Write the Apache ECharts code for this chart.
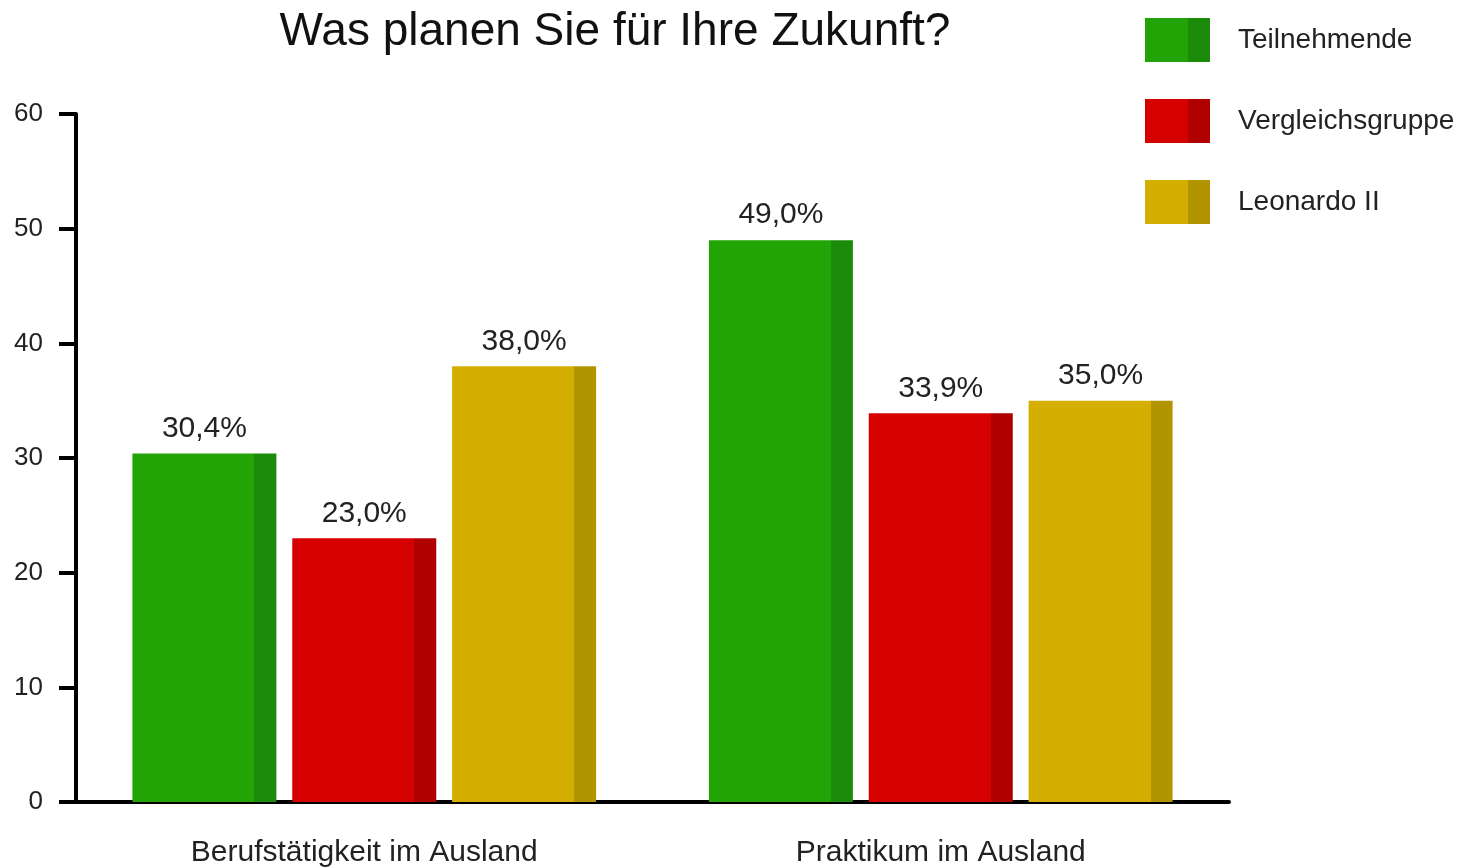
<!DOCTYPE html>
<html>
<head>
<meta charset="utf-8">
<script src="https://cdn.jsdelivr.net/npm/echarts@6/dist/echarts.min.js"></script>
<style>
  html, body { margin: 0; padding: 0; background: #fff; }
  #chart { width: 1465px; height: 868px; }
</style>
</head>
<body>
<div id="chart"></div>
<script>
const categories = ['Berufstätigkeit im Ausland', 'Praktikum im Ausland']
const seriesNames = ['Teilnehmende', 'Vergleichsgruppe', 'Leonardo II']
const teilnehmende = [30.4, 49.0]
const vergleichsgruppe = [23.0, 33.9]
const leonardo = [38.0, 35.0]

const font = 'Liberation Sans, Arial, sans-serif'
const colors = [
  ['#22a306', '#1b8b0a'],
  ['#d50000', '#b10000'],
  ['#d4ae00', '#b29300']
]

// flat front with a darker strip on the right side
function sideShade(pair, split) {
  return new echarts.graphic.LinearGradient(0, 0, 1, 0, [
    { offset: 0, color: pair[0] },
    { offset: split, color: pair[0] },
    { offset: split, color: pair[1] },
    { offset: 1, color: pair[1] }
  ])
}

function fmt(p) {
  return p.value.toFixed(1).replace('.', ',') + '%'
}

const chart = echarts.init(document.getElementById('chart'))

const values = [teilnehmende, vergleichsgruppe, leonardo]
const series = seriesNames.map((name, i) => ({
  name: name,
  type: 'bar',
  data: values[i],
  barWidth: 144,
  barGap: '11%',
  itemStyle: { color: sideShade(colors[i], 0.847) },
  label: {
    show: true,
    position: 'top',
    distance: 10,
    formatter: fmt,
    color: '#222',
    fontSize: 30,
    fontFamily: font
  }
}))

const option = {
  animation: false,
  textStyle: { fontFamily: font },
  title: {
    text: 'Was planen Sie für Ihre Zukunft?',
    left: 610,
    textAlign: 'center',
    top: 4,
    textStyle: { fontSize: 46, fontWeight: 'normal', color: '#111', fontFamily: font }
  },
  legend: {
    orient: 'vertical',
    left: 1140,
    top: 13,
    itemWidth: 65,
    itemHeight: 44,
    itemGap: 37,
    textStyle: { fontSize: 28, color: '#222', padding: [0, 0, 0, 23], fontFamily: font },
    data: seriesNames.map((name, i) => ({
      name: name,
      icon: 'rect',
      itemStyle: { color: sideShade(colors[i], 0.66) }
    }))
  },
  grid: {
    left: 76,
    right: 236,
    top: 114,
    bottom: 66
  },
  xAxis: {
    type: 'category',
    data: categories,
    axisLine: { lineStyle: { color: '#000', width: 4 } },
    axisTick: { show: false },
    axisLabel: { margin: 36, fontSize: 30, color: '#222', fontFamily: font }
  },
  yAxis: {
    type: 'value',
    min: 0,
    max: 60,
    interval: 10,
    splitLine: { show: false },
    axisLine: { show: true, lineStyle: { color: '#000', width: 4 } },
    axisTick: { show: true, length: 17, lineStyle: { color: '#000', width: 4 } },
    axisLabel: { margin: 33, fontSize: 26, color: '#222', fontFamily: font }
  },
  series: series
}

option && chart.setOption(option)
</script>
</body>
</html>
